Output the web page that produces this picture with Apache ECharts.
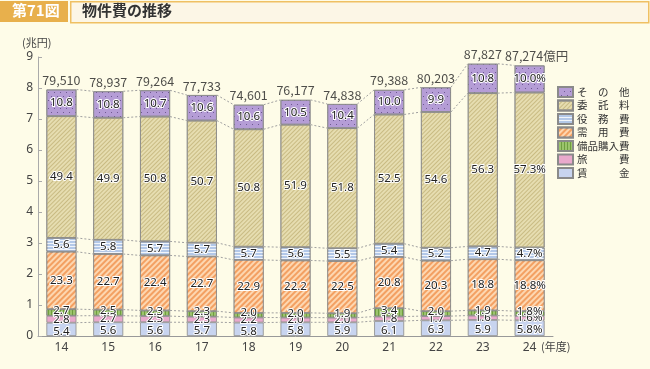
<!DOCTYPE html>
<html><head><meta charset="utf-8">
<script src="https://cdn.jsdelivr.net/npm/echarts@6/dist/echarts.min.js"></script>
<style>html,body{margin:0;padding:0;background:#fefce8;}#c{width:650px;height:369px;}</style>
</head><body><div id="c"></div>
<script>
// ---- data ----
const years = ['14','15','16','17','18','19','20','21','22','23','24'];
const totals = [79510, 78937, 79264, 77733, 74601, 76177, 74838, 79388, 80203, 87827, 87274]; // 億円
const seriesNames = ['賃　　　金','旅　　　費','備品購入費','需　用　費','役　務　費','委　託　料','そ　の　他'];
const pctWage      = [5.4, 5.6, 5.6, 5.7, 5.8, 5.8, 5.9, 6.1, 6.3, 5.9, 5.8];
const pctTravel    = [2.8, 2.7, 2.5, 2.3, 2.2, 2.0, 2.0, 1.8, 1.7, 1.6, 1.6];
const pctEquip     = [2.7, 2.5, 2.3, 2.3, 2.0, 2.0, 1.9, 3.4, 2.0, 1.9, 1.8];
const pctSupplies  = [23.3, 22.7, 22.4, 22.7, 22.9, 22.2, 22.5, 20.8, 20.3, 18.8, 18.8];
const pctService   = [5.6, 5.8, 5.7, 5.7, 5.7, 5.6, 5.5, 5.4, 5.2, 4.7, 4.7];
const pctConsign   = [49.4, 49.9, 50.8, 50.7, 50.8, 51.9, 51.8, 52.5, 54.6, 56.3, 57.3];
const pctOther     = [10.8, 10.8, 10.7, 10.6, 10.6, 10.5, 10.4, 10.0, 9.9, 10.8, 10.0];
const yTicks = [0,1,2,3,4,5,6,7,8,9];

const pctAll = [pctWage, pctTravel, pctEquip, pctSupplies, pctService, pctConsign, pctOther];
// segment heights in 兆円
const segs = pctAll.map(p => p.map((v, i) => totals[i] / 10000 * v / 100));
// cumulative boundaries
const cum = years.map((_, i) => {
  const arr = [0]; let s = 0;
  for (let k = 0; k < segs.length; k++) { s += segs[k][i]; arr.push(s); }
  return arr;
});

const FONT = '"Noto Sans CJK JP", "Noto Sans", sans-serif';
const NUMFONT = '"Noto Sans", "Noto Sans CJK JP", sans-serif';
const BAR_W = 30;
const styles = [
  { color: '#c8d4ef', offset: [0, 2] },
  { color: '#e9a9cc' },
  { color: '#9cc46c', offset: [0, -2], decal: { symbol: 'rect', color: '#6f9e3f', dashArrayX: [1, 2], dashArrayY: [1, 0], symbolSize: 1 } },
  { color: '#f3a062', decal: { symbol: 'rect', color: 'rgba(255,225,190,0.85)', dashArrayX: [1, 0], dashArrayY: [1.2, 2], rotation: -Math.PI / 4, symbolSize: 1 } },
  { color: '#b3c8e8', decal: { symbol: 'rect', color: 'rgba(255,255,255,0.8)', dashArrayX: [1, 0], dashArrayY: [1, 1.5], symbolSize: 1 } },
  { color: '#e6ddb0', decal: { symbol: 'rect', color: '#c9bb83', dashArrayX: [1, 0], dashArrayY: [1, 2], rotation: -Math.PI / 4, symbolSize: 1 } },
  { color: '#b59dd6', decal: { symbol: 'rect', color: '#6f5a92', dashArrayX: [[1, 5], [0, 3, 1, 2]], dashArrayY: [1, 3], symbolSize: 1 } }
];

const barSeries = seriesNames.map((name, k) => {
  const itemStyle = { borderColor: '#8a8a8a', borderWidth: 0.8, color: styles[k].color };
  if (styles[k].decal) itemStyle.decal = styles[k].decal;
  return {
    name, type: 'bar', stack: 'total', barWidth: BAR_W, z: 3,
    data: segs[k],
    itemStyle,
    label: {
      show: true, position: 'inside', fontFamily: NUMFONT, fontSize: 11.5, color: '#222',
      textBorderColor: '#fff', textBorderWidth: 2, offset: styles[k].offset || [0, 0],
      formatter: p => pctAll[k][p.dataIndex].toFixed(1) + (p.dataIndex === years.length - 1 ? '%' : '')
    },
    emphasis: { disabled: true }
  };
});

const option = {
  backgroundColor: '#fefce8',
  animation: false,
  grid: { left: 38, right: 97, top: 57, bottom: 33 },
  xAxis: {
    type: 'category', data: years,
    axisLine: { lineStyle: { color: '#999' } },
    axisTick: { show: false },
    axisLabel: { fontFamily: NUMFONT, fontSize: 12, color: '#444', margin: 6 }
  },
  yAxis: {
    type: 'value', min: 0, max: 9, interval: 1,
    splitLine: { show: false },
    axisLine: { show: true, lineStyle: { color: '#aaa' } },
    axisTick: { show: true, inside: true, length: 4, lineStyle: { color: '#aaa' } },
    axisLabel: { fontFamily: NUMFONT, fontSize: 12, color: '#444', margin: 5, formatter: v => yTicks.includes(v) ? String(v) : '' }
  },
  legend: {
    orient: 'vertical', left: 557, top: 86, itemWidth: 15, itemHeight: 10, itemGap: 1.5, padding: 0,
    icon: 'rect', selectedMode: false,
    data: seriesNames.slice().reverse(),
    textStyle: { fontFamily: FONT, fontSize: 10.5, color: '#333', padding: [0, 0, 0, -1], lineHeight: 10, height: 10 }
  },
  series: [
    ...barSeries,
    {
      type: 'custom', z: 1, silent: true,
      data: years.slice(0, -1).map((_, i) => [i, totals[i] / 10000]),
      renderItem: (params, api) => {
        const i = api.value(0);
        const children = [];
        for (let k = 1; k < cum[i].length; k++) {
          const p1 = api.coord([i, cum[i][k]]);
          const p2 = api.coord([i + 1, cum[i + 1][k]]);
          children.push({
            type: 'line',
            shape: { x1: p1[0] + BAR_W / 2, y1: p1[1], x2: p2[0] - BAR_W / 2, y2: p2[1] },
            style: { stroke: '#a0a0a0', lineWidth: 1, lineDash: [2, 2] }
          });
        }
        return { type: 'group', children };
      }
    },
    {
      type: 'scatter', symbolSize: 0, silent: true, z: 5,
      data: totals.map((t, i) => ({
        value: t / 10000,
        label: i === totals.length - 1 ? { offset: [7, 0] } : {}
      })),
      label: {
        show: true, position: 'top', distance: 3, fontFamily: FONT, fontSize: 12.5, color: '#222',
        formatter: p => totals[p.dataIndex].toLocaleString('en-US') + (p.dataIndex === totals.length - 1 ? '億円' : '')
      }
    }
  ],
  graphic: [
    { type: 'rect', left: 0, top: 1, shape: { width: 68, height: 21 }, style: { fill: '#e8b04c' } },
    { type: 'text', left: 12, top: 3, style: { text: '第71図', fill: '#fff', font: 'bold 15px ' + FONT } },
    { type: 'rect', left: 70, top: 1, shape: { width: 578, height: 21 }, style: { fill: '#fcf6e6', stroke: '#efc063', lineWidth: 1.5 } },
    { type: 'text', left: 82, top: 3, style: { text: '物件費の推移', fill: '#333', font: 'bold 15px ' + FONT } },
    { type: 'text', left: 22, top: 37, style: { text: '(兆円)', fill: '#444', font: '11px ' + FONT } },
    { type: 'text', left: 541, top: 341, style: { text: '(年度)', fill: '#444', font: '11px ' + FONT } }
  ]
};
const chart = echarts.init(document.getElementById('c'), null, { renderer: 'canvas' });
chart.setOption(option);
</script></body></html>
